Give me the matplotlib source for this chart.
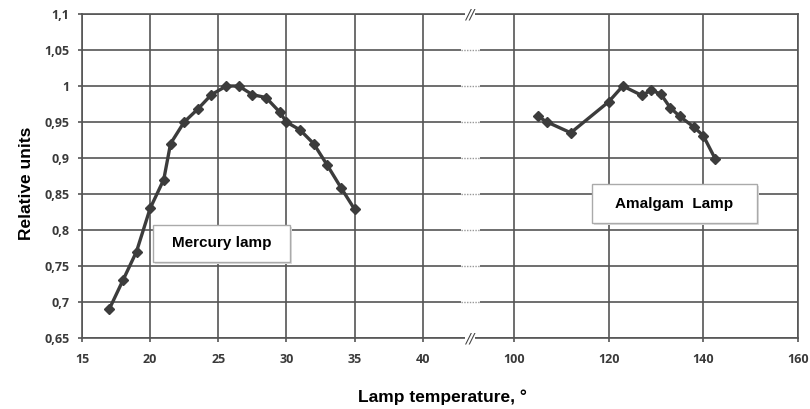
import numpy as np
import matplotlib
matplotlib.use("Agg")
import matplotlib.pyplot as plt
from matplotlib.patches import Rectangle

# data
hg_temp = [17, 18, 19, 20, 21, 21.5, 22.5, 23.5, 24.5, 25.6, 26.5, 27.5, 28.5, 29.5, 30, 31, 32, 33, 34, 35]
hg_rel = [0.69, 0.73, 0.77, 0.83, 0.87, 0.92, 0.95, 0.968, 0.988, 1.0, 1.0, 0.988, 0.984, 0.964, 0.95, 0.939, 0.92, 0.89, 0.859, 0.829]

am_temp = [105, 107, 112, 120, 123, 127, 129, 131, 133, 135, 138, 140, 142.5]
am_rel = [0.958, 0.95, 0.935, 0.978, 1.0, 0.987, 0.994, 0.989, 0.97, 0.958, 0.943, 0.931, 0.899]

x_ticks = [15, 20, 25, 30, 35, 40, 100, 120, 140, 160]
y_ticks = [0.65, 0.7, 0.75, 0.8, 0.85, 0.9, 0.95, 1.0, 1.05, 1.1]
y_labels = ["0,65", "0,7", "0,75", "0,8", "0,85", "0,9", "0,95", "1", "1,05", "1,1"]


# broken axis: 15..40 wide, 100..160 compressed
def fwd(x):
    x = np.asarray(x, dtype=float)
    return np.where(x <= 40, (x - 15) / 5,
                    np.where(x <= 100, 5 + (x - 40) / 60 * 1.34,
                             6.34 + (x - 100) / 20 * 1.39))


def inv(u):
    u = np.asarray(u, dtype=float)
    return np.where(u <= 5, 15 + 5 * u,
                    np.where(u <= 6.34, 40 + (u - 5) / 1.34 * 60,
                             100 + (u - 6.34) / 1.39 * 20))


tick_font = ["Open Sans", "DejaVu Sans"]
lab_font = ["Liberation Sans Narrow", "Liberation Sans", "DejaVu Sans"]
dark = "#3c3c3c"
grid_c = "#555555"

fig = plt.figure(figsize=(8.1, 4.09), dpi=100)
ax = fig.add_axes([82 / 810, 1 - 338 / 409, 716 / 810, 324 / 409])
ax.set_xscale("function", functions=(fwd, inv))
ax.set_xlim(15, 160)
ax.set_ylim(0.65, 1.1)
ax.set_xticks(x_ticks)
ax.set_xticklabels([str(t) for t in x_ticks])
ax.set_yticks(y_ticks)
ax.set_yticklabels(y_labels)
ax.minorticks_off()
ax.set_axisbelow(True)
ax.grid(True, color=grid_c, linewidth=1.2)
for s in ax.spines.values():
    s.set_color(grid_c)
    s.set_linewidth(1.2)
ax.tick_params(length=3, width=1.2, color=grid_c, labelcolor="#3a3a3a")
ax.tick_params(axis="x", pad=8)
ax.tick_params(axis="y", pad=6)
for lab in ax.get_xticklabels() + ax.get_yticklabels():
    lab.set_family(tick_font)
    lab.set_fontsize(9)
    lab.set_fontweight("bold")

# gap in the horizontal grid at the break
ax.add_patch(Rectangle((65.5, 0.651), 12.5, 0.448, facecolor="white", edgecolor="none", zorder=0.8))
for yv in y_ticks[1:-1]:
    ax.plot([65.5, 78], [yv, yv], color="#999999", linewidth=1, linestyle=(0, (1, 1)), zorder=0.9)

# break marks on the top and bottom edge
for yb in (0.65, 1.1):
    ax.text(71, yb, "//", transform=ax.transData, ha="center", va="center",
            fontsize=10, fontstyle="italic", color="#444444", family="DejaVu Sans", clip_on=False,
            bbox=dict(facecolor="white", edgecolor="none", pad=0.2), zorder=5)

ax.plot(hg_temp, hg_rel, color=dark, linewidth=2.4, marker="D", markersize=5, zorder=3)
ax.plot(am_temp, am_rel, color=dark, linewidth=2.4, marker="D", markersize=5, zorder=3)

# label boxes
for (x0, y0, w, h, txt) in [(0.099, 0.235, 0.191, 0.114, "Mercury lamp"),
                            (0.712, 0.355, 0.231, 0.120, "Amalgam  Lamp")]:
    ax.add_patch(Rectangle((x0 + 0.003, y0 - 0.006), w, h, transform=ax.transAxes,
                           facecolor="#dddddd", edgecolor="none", zorder=3.5))
    ax.add_patch(Rectangle((x0, y0), w, h, transform=ax.transAxes,
                           facecolor="white", edgecolor="#aaaaaa", linewidth=1, zorder=4))
    ax.text(x0 + w / 2, y0 + h / 2, txt, transform=ax.transAxes, ha="center", va="center",
            fontsize=11, fontweight="bold", family=lab_font, zorder=5)

ax.set_ylabel("Relative units", fontsize=12.5, fontweight="bold", family=lab_font)
ax.yaxis.set_label_coords(-0.067, 0.478)
ax.set_xlabel("Lamp temperature, °", fontsize=12.5, fontweight="bold", family=lab_font)
ax.xaxis.set_label_coords(0.503, -0.16)

fig.savefig("out.png", dpi=100)
